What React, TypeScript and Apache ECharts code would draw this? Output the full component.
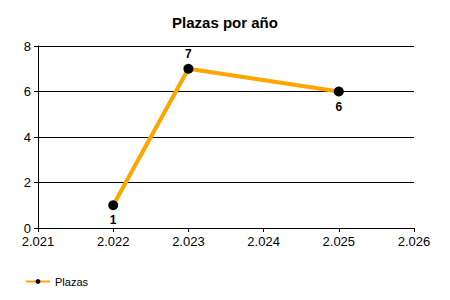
import React, { useEffect, useRef } from "react";
import * as echarts from "echarts";

const years = [2022, 2023, 2025];
const plazas = [1, 7, 6];
const labelPositions = ["bottom", "top", "bottom"];
const seriesName = "Plazas";
const title = "Plazas por año";

function fmtThousands(v: number): string {
  const s = Math.round(v).toString();
  return s.replace(/\B(?=(\d{3})+(?!\d))/g, ".");
}

export default function App() {
  const ref = useRef<HTMLDivElement>(null);
  useEffect(() => {
    if (!ref.current) return;
    const chart = echarts.init(ref.current, null, { renderer: "svg" });
    const font = "Arial, 'Liberation Sans', sans-serif";
    chart.setOption({
      animation: false,
      backgroundColor: "#fff",
      textStyle: { fontFamily: font },
      title: {
        text: title,
        left: "center",
        top: 10,
        textStyle: { fontSize: 15, fontWeight: "bold", color: "#000", fontFamily: font },
      },
      legend: {
        left: 20,
        top: 271,
        itemWidth: 24,
        itemHeight: 6,
        itemGap: 6,
        textStyle: { fontSize: 11, color: "#000", fontFamily: font },
        data: [seriesName],
      },
      grid: { left: 38, right: 36, top: 46, bottom: 72, containLabel: false },
      xAxis: {
        type: "value",
        min: 2021,
        max: 2026,
        interval: 1,
        axisLine: { show: true, lineStyle: { color: "#000", width: 1 } },
        axisTick: { show: true, length: 4, lineStyle: { color: "#000" } },
        splitLine: { show: false },
        axisLabel: {
          color: "#000",
          fontSize: 13,
          margin: 7,
          fontFamily: font,
          formatter: (v: number) => fmtThousands(v),
        },
      },
      yAxis: {
        type: "value",
        min: 0,
        max: 8,
        interval: 2,
        axisLine: { show: true, lineStyle: { color: "#000", width: 1 } },
        axisTick: { show: true, length: 4, lineStyle: { color: "#000" } },
        splitLine: { show: true, lineStyle: { color: "#000", width: 1 } },
        axisLabel: { color: "#000", fontSize: 13, margin: 7, fontFamily: font },
      },
      series: [
        {
          name: seriesName,
          type: "line",
          data: years.map((y, i) => ({
            value: [y, plazas[i]],
            label: { position: labelPositions[i] },
          })),
          lineStyle: { color: "#FFA500", width: 4 },
          itemStyle: { color: "#000" },
          color: "#FFA500",
          symbol: "circle",
          symbolSize: 10,
          label: {
            show: true,
            fontSize: 12,
            fontWeight: "bold",
            color: "#000",
            distance: 4,
            fontFamily: font,
            formatter: (p: any) => String(p.value[1]),
          },
        },
      ],
    });
    return () => chart.dispose();
  }, []);
  return (
    <div
      ref={ref}
      style={{ position: "fixed", left: 0, top: 0, width: 450, height: 300 }}
    />
  );
}
